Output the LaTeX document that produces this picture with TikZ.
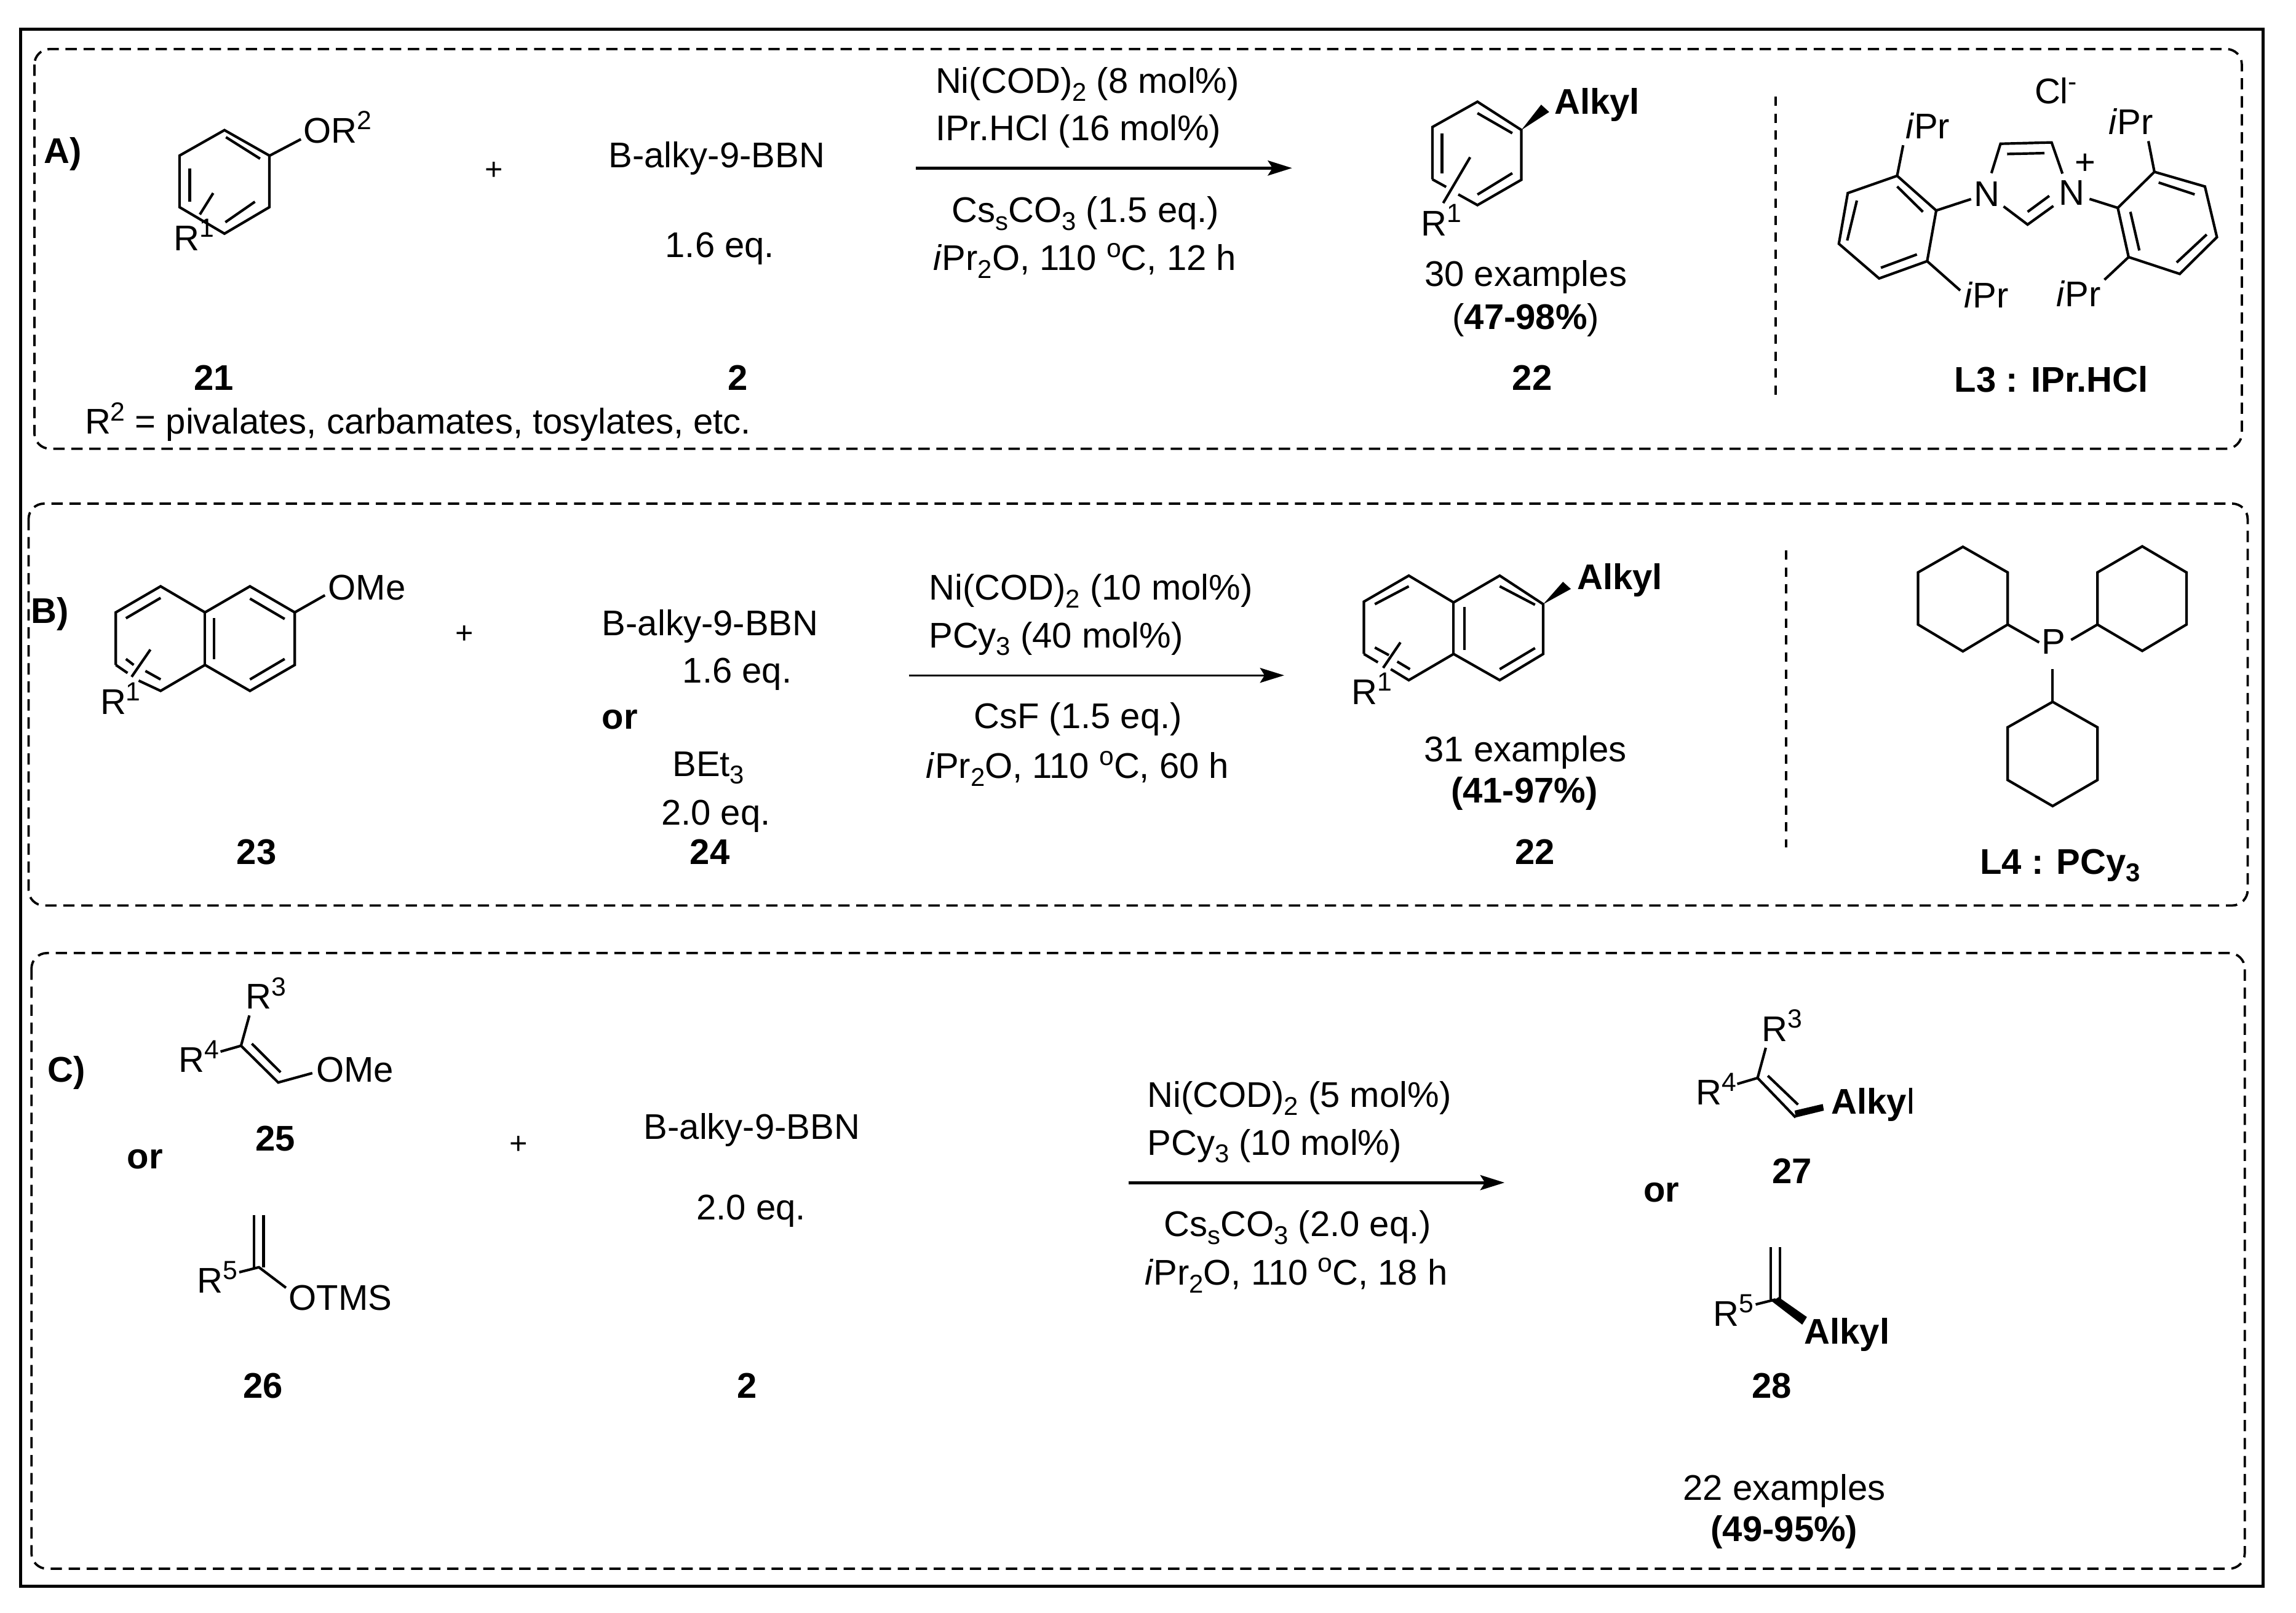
\documentclass[tikz,border=0pt]{standalone}
\usepackage{fontspec}
\setmainfont{Liberation Sans}
\usetikzlibrary{arrows.meta}
\newcommand{\supnum}[1]{\raisebox{2.6pt}{\fontsize{5.1}{5}\selectfont #1}}
\newcommand{\subnum}[1]{\raisebox{-1.5pt}{\fontsize{5}{5}\selectfont #1}}
\newcommand{\ipr}{\textit{i}Pr}
\tikzset{
    mid/.style={font=\fontsize{6.93}{8.3}\selectfont, inner sep=0pt, anchor=base},
    txt/.style={mid, anchor=base west, xshift=-0.012cm},
    lab/.style={mid, font=\fontsize{6.93}{8.3}\selectfont\bfseries},
    tag/.style={txt, font=\fontsize{6.93}{8.3}\selectfont\bfseries},
    plus/.style={font=\fontsize{6}{7}\selectfont, inner sep=0pt},
    bond/.style={line width=0.5pt},
    outerframe/.style={line width=0.6pt},
    dashbox/.style={line width=0.45pt, dash pattern=on 2.2pt off 1.3pt, rounded corners=3pt},
    sepline/.style={line width=0.42pt, dash pattern=on 1.8pt off 1.5pt},
    rxn/.style={-{Stealth[length=4.7pt,width=2.9pt,inset=0.9pt]}, line width=0.57pt},
    rxnthin/.style={rxn, line width=0.34pt}
}
\begin{document}
\begin{tikzpicture}[x=0.01cm, y=-0.01cm]
\useasboundingbox (0, 0) rectangle (1568, 1101.7);
\draw[outerframe] (14, 20) rectangle (1545.5, 1083.3);
\draw[dashbox] (23.5, 33.5) rectangle (1531, 306.5);
\draw[dashbox] (19.5, 344) rectangle (1535, 618.5);
\draw[dashbox] (21.5, 651) rectangle (1533, 1071.5);
\coordinate (sepAtop) at (1212.6, 66);
\coordinate (sepAbot) at (1212.6, 269.5);
\coordinate (sepBtop) at (1219.7, 376);
\coordinate (sepBbot) at (1219.7, 579);
\draw[sepline] (sepAtop) -- (sepAbot);
\draw[sepline] (sepBtop) -- (sepBbot);

\node[tag] (partA) at (30.6, 111.4) {A)};
\draw[bond] (153.3, 88.9) -- (184, 106.3) -- (184, 141.5) -- (153.3, 159.6) -- (122.6, 141.5) -- (122.6, 106.3) -- cycle;
\draw[bond] (154.3, 93.7) -- (177.6, 108.4);
\draw[bond] (174.1, 137.8) -- (153.9, 151.8);
\draw[bond] (129.6, 115) -- (129.6, 137.8);
\draw[bond] (145.6, 131.9) -- (136.5, 146.5);
\draw[bond] (184, 106.4) -- (205.5, 95.1);
\node[txt] (orA) at (207.9, 97.6) {OR\supnum{2}};
\node[txt] (rA) at (119, 171) {R\supnum{1}};
\node[plus] (plusA) at (337.2, 116.6) {+};
\node[mid] (boraneA) at (489.5, 114.6) {B-alky-9-BBN};
\node[mid] (eqA) at (491.6, 175.8) {1.6 eq.};
\node[lab] (n21) at (146, 266.4) {21};
\node[lab] (n2A) at (504, 266.4) {2};
\node[txt] (noteA) at (58.5, 296.5) {R\supnum{2} = pivalates, carbamates, tosylates, etc.};
\node[txt] (niA) at (639.4, 63.7) {Ni(COD)\subnum{2} (8 mol\%)};
\node[txt] (ligA) at (639.4, 95.9) {IPr.HCl (16 mol\%)};
\coordinate (arrAs) at (625.5, 114.8);
\coordinate (arrAe) at (882.4, 114.8);
\draw[rxn] (arrAs) -- (arrAe);
\node[txt] (baseA) at (650.6, 151.9) {Cs\subnum{s}CO\subnum{3} (1.5 eq.)};
\node[txt] (solvA) at (638, 184.8) {\ipr\subnum{2}O, 110 \supnum{o}C, 12 h};

\draw[bond] (978.2, 122.5) -- (978.2, 86.8) -- (1009, 69.5) -- (1039, 88.8) -- (1039, 122.8) -- (1009, 140.1) -- (995.9, 132.8);
\draw[bond] (978.2, 122.5) -- (987.6, 127.7);
\draw[bond] (1009, 77.3) -- (1032.8, 91);
\draw[bond] (1032.8, 118.3) -- (1009, 132.9);
\draw[bond] (984.8, 91) -- (984.8, 118.3);
\draw[bond] (1004, 107.4) -- (985.6, 138.7);
\fill (1039, 88.8) -- (1058, 76.5) -- (1052.5, 71.5) -- cycle;
\node[tag] (alkA) at (1062, 78) {Alkyl};
\node[txt] (rprodA) at (971, 161) {R\supnum{1}};
\node[mid] (exA) at (1042, 195.7) {30 examples};
\node[mid] (yldA) at (1042, 224.8) {(\textbf{47-98\%})};
\node[lab] (n22A) at (1046.4, 266.7) {22};

\node[txt] (cl) at (1390, 70.9) {Cl\supnum{-}};
\draw[bond] (1295.6, 120.1) -- (1322.3, 143.8) -- (1316.1, 178.4) -- (1283.3, 190.2) -- (1255.8, 166.5) -- (1261.9, 131.9) -- cycle;
\draw[bond] (1295.6, 127.4) -- (1313.2, 144.7);
\draw[bond] (1309.1, 173.8) -- (1284.5, 182.9);
\draw[bond] (1261.5, 164.3) -- (1268.1, 137);
\draw[bond] (1295.6, 120.1) -- (1299.7, 99.2);
\node[txt] (ipr1) at (1301.8, 94.6) {\ipr};
\draw[bond] (1316.1, 178.4) -- (1338.7, 198.4);
\node[txt] (ipr2) at (1342, 210.2) {\ipr};
\draw[bond] (1322.3, 143.8) -- (1346.1, 136);
\node[mid] (nleft) at (1356.8, 141) {N};
\draw[bond] (1360, 118.3) -- (1366.2, 98.2) -- (1401.1, 97.3) -- (1408.5, 118.6);
\draw[bond] (1370.7, 105.2) -- (1396.2, 104.6);
\draw[bond] (1368.3, 141) -- (1384.7, 153.4) -- (1402.3, 140.7);
\draw[bond] (1384.7, 144.7) -- (1399.5, 133.8);
\node[mid] (nright) at (1414.7, 140.1) {N};
\node[plus, font=\fontsize{6.9}{8}\selectfont] (plusN) at (1424.1, 111.9) {+};
\draw[bond] (1427, 135.9) -- (1446.3, 142);
\draw[bond] (1446.3, 142) -- (1471.3, 117.4) -- (1505.8, 127.4) -- (1514, 162) -- (1488.6, 187.1) -- (1453.7, 175.6) -- cycle;
\draw[bond] (1474.2, 124.7) -- (1498.8, 132.8);
\draw[bond] (1507, 160.2) -- (1486.5, 179.3);
\draw[bond] (1454.9, 144.7) -- (1461, 171.1);
\draw[bond] (1471.3, 117.4) -- (1467.2, 96.4);
\node[txt] (ipr3) at (1440.5, 91.9) {\ipr};
\draw[bond] (1453.7, 175.6) -- (1437.2, 191.1);
\node[txt] (ipr4) at (1405, 209.3) {\ipr};
\node[lab] (l3) at (1401, 267.6) {L3 : IPr.HCl};

\node[tag] (partB) at (21.6, 425.8) {B)};
\draw[bond] (79.1, 454.2) -- (79.1, 418.3) -- (109.7, 400.5) -- (140, 418.3) -- (170.7, 400.5) -- (201.3, 418.3) -- (201.3, 454.2) -- (170.7, 471.9) -- (140, 454.2) -- (109.7, 471.9) -- (94.7, 464.9);
\draw[bond] (79.1, 454.2) -- (87.1, 459.7);
\draw[bond] (140, 418.3) -- (140, 454.2);
\draw[bond] (109.7, 408.4) -- (86, 422.3);
\draw[bond] (170.7, 408.9) -- (194.4, 422.8);
\draw[bond] (146.3, 422.3) -- (146.3, 450.1);
\draw[bond] (194.4, 450.1) -- (170.7, 464.1);
\draw[bond] (86, 450.1) -- (91.3, 454.2);
\draw[bond] (99.3, 458.3) -- (109.7, 464.1);
\draw[bond] (102.7, 443.7) -- (89.9, 462.3);
\draw[bond] (201.3, 418.3) -- (221.9, 406.6);
\node[txt] (omeB) at (224.7, 409.6) {OMe};
\node[txt] (rB) at (69, 487.9) {R\supnum{1}};
\node[plus] (plusB) at (317, 433.6) {+};
\node[txt] (boraneB) at (411.7, 434.1) {B-alky-9-BBN};
\node[txt] (eqB) at (466.7, 466.3) {1.6 eq.};
\node[tag] (orB) at (411.7, 498) {or};
\node[txt] (bet) at (459.8, 530.2) {BEt\subnum{3}};
\node[txt] (eqBb) at (452.1, 563.3) {2.0 eq.};
\node[lab] (n23) at (175.2, 590.3) {23};
\node[lab] (n24) at (484.8, 590.3) {24};
\node[txt] (niB) at (634.9, 409.9) {Ni(COD)\subnum{2} (10 mol\%)};
\node[txt] (ligB) at (634.9, 442.4) {PCy\subnum{3} (40 mol\%)};
\coordinate (arrBs) at (620.8, 461.3);
\coordinate (arrBe) at (877, 461.3);
\draw[rxnthin] (arrBs) -- (arrBe);
\node[txt] (baseB) at (665.6, 497.7) {CsF (1.5 eq.)};
\node[txt] (solvB) at (633, 531.7) {\ipr\subnum{2}O, 110 \supnum{o}C, 60 h};

\draw[bond] (931.4, 446.7) -- (931.4, 411) -- (962.1, 393.2) -- (992.7, 411.5) -- (1024.2, 393.2) -- (1053.9, 412.7) -- (1053.9, 446.7) -- (1024.2, 464.6) -- (992.7, 446.7) -- (962.1, 464.6) -- (949.8, 457.1);
\draw[bond] (931.4, 446.7) -- (941, 452.4);
\draw[bond] (992.7, 411.5) -- (992.7, 446.7);
\draw[bond] (962.1, 400.5) -- (938.9, 412.7);
\draw[bond] (1024.2, 400.5) -- (1048.3, 413.1);
\draw[bond] (1000.1, 414.5) -- (1000.1, 444);
\draw[bond] (1048.3, 442.7) -- (1024.2, 457.1);
\draw[bond] (938.9, 442.3) -- (948.5, 447.5);
\draw[bond] (954.2, 451.9) -- (962.9, 457.1);
\draw[bond] (956.4, 438.8) -- (944.6, 456.2);
\fill (1053.9, 412.7) -- (1072.8, 402.3) -- (1067.4, 397.4) -- cycle;
\node[tag] (alkB) at (1077.6, 402.6) {Alkyl};
\node[txt] (rprodB) at (923.6, 481) {R\supnum{1}};
\node[mid] (exB) at (1041.7, 520.3) {31 examples};
\node[lab] (yldB) at (1041, 548.5) {(41-97\%)};
\node[lab] (n22B) at (1048.3, 590.3) {22};

\draw[bond] (1340.5, 373.5) -- (1371.1, 391) -- (1371.1, 426.6) -- (1340.5, 444.9) -- (1309.9, 426.6) -- (1309.9, 391) -- cycle;
\draw[bond] (1463, 373.2) -- (1493.2, 391) -- (1493.2, 426.6) -- (1463, 444.6) -- (1432.4, 426.6) -- (1432.4, 391) -- cycle;
\draw[bond] (1401.8, 479.4) -- (1432.4, 496.8) -- (1432.4, 532.8) -- (1401.8, 550.6) -- (1371.1, 532.8) -- (1371.1, 496.8) -- cycle;
\node[mid] (phos) at (1402.6, 446.7) {P};
\draw[bond] (1371.1, 426.6) -- (1392.6, 438.8);
\draw[bond] (1432.4, 426.6) -- (1414.4, 437.1);
\draw[bond] (1401.8, 457.1) -- (1401.8, 479.4);
\node[lab] (l4) at (1407, 596.9) {L4 : PCy\subnum{3}};

\node[tag] (partC) at (33, 739) {C)};
\draw[bond] (170.3, 693.6) -- (164.6, 714.3) -- (190, 739.4) -- (213.3, 733);
\draw[bond] (164.6, 714.3) -- (150.6, 718.3);
\draw[bond] (172, 712.9) -- (191.6, 732.4);
\node[txt] (r3C) at (168.3, 689.2) {R\supnum{3}};
\node[txt] (r4C) at (122.5, 732.4) {R\supnum{4}};
\node[txt] (omeC) at (216.5, 739) {OMe};
\node[lab] (n25) at (188, 786) {25};
\node[tag] (orC) at (87.4, 798.3) {or};
\draw[bond] (173.6, 829.8) -- (173.6, 865.6);
\draw[bond] (180, 829.8) -- (180, 865.6);
\draw[bond] (163.4, 869) -- (176.8, 865.6) -- (195.3, 879.6);
\node[txt] (r5C) at (135, 883) {R\supnum{5}};
\node[txt] (otms) at (197.7, 895.1) {OTMS};
\node[lab] (n26) at (179.5, 954.8) {26};
\node[plus] (plusC) at (354, 782) {+};
\node[mid] (boraneC) at (513.5, 778) {B-alky-9-BBN};
\node[mid] (eqC) at (513, 833) {2.0 eq.};
\node[lab] (n2C) at (510, 954.8) {2};
\node[txt] (niC) at (784.1, 756.4) {Ni(COD)\subnum{2} (5 mol\%)};
\node[txt] (ligC) at (784.1, 788.9) {PCy\subnum{3} (10 mol\%)};
\coordinate (arrCs) at (770.6, 807.8);
\coordinate (arrCe) at (1027.5, 807.8);
\draw[rxn] (arrCs) -- (arrCe);
\node[txt] (baseC) at (795.4, 844.6) {Cs\subnum{s}CO\subnum{3} (2.0 eq.)};
\node[txt] (solvC) at (782.3, 877.8) {\ipr\subnum{2}O, 110 \supnum{o}C, 18 h};

\draw[bond] (1205.9, 715.7) -- (1200.3, 736.3) -- (1226.3, 763.3);
\draw[bond] (1200.3, 736.3) -- (1186.4, 740.4);
\draw[bond] (1207.3, 734.8) -- (1227.9, 754.5);
\fill (1226.3, 763.3) -- (1225.6, 758.6) -- (1244.8, 754.1) -- (1245.6, 758.6) -- cycle;
\node[txt] (r3P) at (1203.8, 711.4) {R\supnum{3}};
\node[txt] (r4P) at (1158.8, 754.5) {R\supnum{4}};
\node[txt] (alkC) at (1251.2, 761) {\textbf{Alky}l};
\node[lab] (n27) at (1223.9, 808.5) {27};
\node[tag] (orP) at (1123, 821) {or};
\draw[bond] (1209.4, 852) -- (1209.4, 887.6);
\draw[bond] (1215.5, 852) -- (1215.5, 887.6);
\draw[bond] (1212.6, 887.6) -- (1199, 891);
\fill (1210.2, 889) -- (1214.6, 886) -- (1234, 899.6) -- (1230.8, 904.8) -- cycle;
\node[txt] (r5P) at (1170.5, 905.8) {R\supnum{5}};
\node[tag] (alkD) at (1232.7, 918) {Alkyl};
\node[lab] (n28) at (1209.9, 955.1) {28};
\node[mid] (exC) at (1218.5, 1024.5) {22 examples};
\node[lab] (yldC) at (1218.5, 1052.8) {(49-95\%)};
\end{tikzpicture}
\end{document}
